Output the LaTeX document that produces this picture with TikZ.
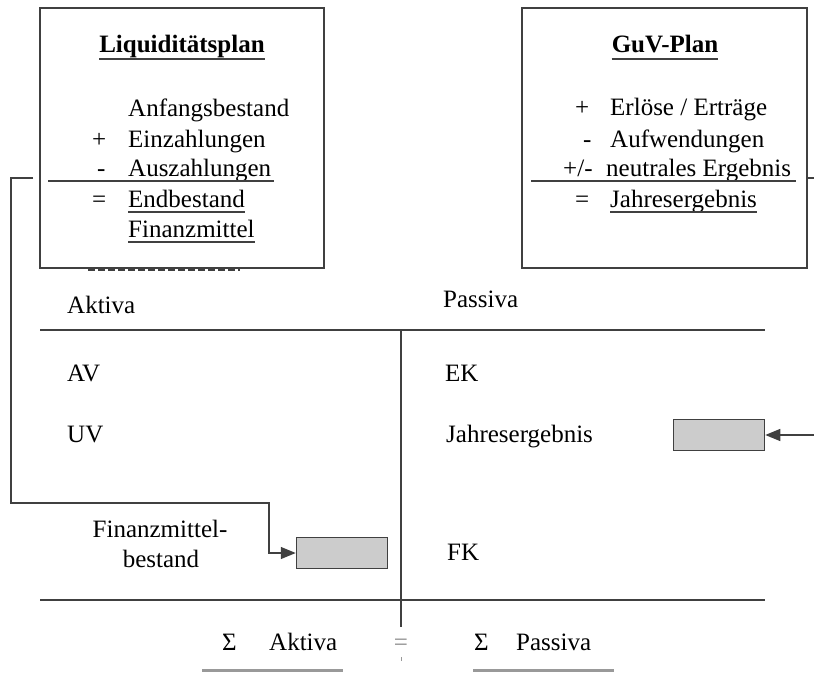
\documentclass[tikz,border=0pt]{standalone}
\usepackage{fontspec}
\setmainfont{Liberation Serif}
\usetikzlibrary{arrows.meta}
\begin{document}
\begin{tikzpicture}[x=1pt,y=-1pt, font=\fontsize{25}{30}\selectfont,
 txt/.style={inner sep=0pt, anchor=base west, text=black},
 ctxt/.style={inner sep=0pt, anchor=base, text=black},
 ttl/.style={ctxt, font=\bfseries\fontsize{25}{30}\selectfont},
 ln/.style={draw=black!75, line width=1.3pt},
 plan/.style={draw=black!75, line width=1.5pt, inner sep=0pt},
 slot/.style={draw=black!75, fill=black!20, line width=1.5pt, inner sep=0pt, minimum width=91pt, minimum height=31pt},
 arr/.style={ln, -{Triangle[length=15pt,width=12pt]}},
 ul/.style={draw=black!75, line width=1.1pt},
 sumul/.style={draw=black!40, line width=3pt}
]
\useasboundingbox (0,0) rectangle (814,677);

% dashed line partly hidden by the box
\draw[ln, line width=2pt, dash pattern=on 7pt off 3pt] (88,270) -- (240,270);

% Liquiditaetsplan
\node[plan, fill=white, minimum width=284pt, minimum height=260pt] (liq) at (182,138) {};
\node[ttl] (liqt) at (182,53) {Liquiditätsplan};
\draw[ul] ([yshift=-6pt]liqt.base west) -- ([yshift=-6pt]liqt.base east);
\node[txt] (anf) at (128,117) {Anfangsbestand};
\node[txt] (pl1) at (92,147) {+};
\node[txt] (ein) at (128,147) {Einzahlungen};
\node[txt] (mi1) at (97,176) {-};
\node[txt] (aus) at (128,176) {Auszahlungen};
\coordinate (ls1) at (48,181);
\coordinate (ls2) at (274,181);
\draw[ln] (ls1) -- (ls2);
\node[txt] (eq1) at (92,207) {=};
\node[txt] (end) at (128,207) {Endbestand};
\draw[ul] ([yshift=-5pt]end.base west) -- ([yshift=-5pt]end.base east);
\node[txt] (fin) at (128,237) {Finanzmittel};
\draw[ul] ([yshift=-5pt]fin.base west) -- ([yshift=-5pt]fin.base east);

% GuV-Plan
\node[plan, minimum width=285pt, minimum height=260pt] (guv) at (664.5,138) {};
\node[ttl] (guvt) at (665,53) {GuV-Plan};
\draw[ul] ([yshift=-6pt]guvt.base west) -- ([yshift=-6pt]guvt.base east);
\node[txt] (pl2) at (575,115) {+};
\node[txt] (erl) at (610,115) {Erlöse / Erträge};
\node[txt] (mi2) at (583,147) {-};
\node[txt] (aufw) at (610,147) {Aufwendungen};
\node[txt] (pm) at (563,176) {+/-};
\node[txt] (neu) at (606,176) {neutrales Ergebnis};
\coordinate (gs1) at (531,181);
\coordinate (gs2) at (796,181);
\draw[ln] (gs1) -- (gs2);
\node[txt] (eq2) at (575,207) {=};
\node[txt] (jer) at (610,207) {Jahresergebnis};
\draw[ul] ([yshift=-5pt]jer.base west) -- ([yshift=-5pt]jer.base east);

% Bilanz
\node[txt] (akt) at (67,313) {Aktiva};
\node[txt] (pas) at (443,307) {Passiva};
\coordinate (h1a) at (40,330);
\coordinate (h1b) at (765,330);
\draw[ln] (h1a) -- (h1b);
\coordinate (vt) at (401,330);
\coordinate (vb) at (401,627);
\draw[ln] (vt) -- (vb);
\coordinate (h2a) at (40,600);
\coordinate (h2b) at (765,600);
\draw[ln] (h2a) -- (h2b);

\node[txt] (av) at (67,381) {AV};
\node[txt] (ek) at (445,381) {EK};
\node[txt] (uv) at (67,442) {UV};
\node[txt] (jer2) at (446,442) {Jahresergebnis};
\node[slot] (jslot) at (719,435) {};
\node[ctxt] (fm1) at (160,537) {Finanzmittel-};
\node[ctxt] (fm2) at (161,567) {bestand};
\node[slot] (fslot) at (342,553) {};
\node[txt] (fk) at (447,560) {FK};

% Summen
\node[txt] (sig1) at (222,650) {Σ};
\node[txt] (akt2) at (269,650) {Aktiva};
\node[ctxt, text=black!45] (eq3) at (401,650) {=};
\node[txt] (sig2) at (474,650) {Σ};
\node[txt] (pas2) at (516,650) {Passiva};
\coordinate (u1a) at (202,670);
\coordinate (u1b) at (343,670);
\draw[sumul] (u1a) -- (u1b);
\coordinate (u2a) at (473,670);
\coordinate (u2b) at (614,670);
\draw[sumul] (u2a) -- (u2b);
\coordinate (tk1) at (401,657);
\coordinate (tk2) at (401,661);
\draw[draw=black!40, line width=1pt] (tk1) -- (tk2);

% connectors
\coordinate (lstart) at (33,178);
\coordinate (lc1) at (11,178);
\coordinate (lc2) at (11,503);
\coordinate (lc3) at (269,503);
\draw[arr] (lstart) -- (lc1) -- (lc2) -- (lc3) |- (fslot.west);
\coordinate (rstart) at (808,178);
\coordinate (rend) at (814,178);
\draw[ln] (rstart) -- (rend);
\coordinate (redge) at (814,435);
\draw[arr] (redge) -- (jslot.east);
\end{tikzpicture}
\end{document}
